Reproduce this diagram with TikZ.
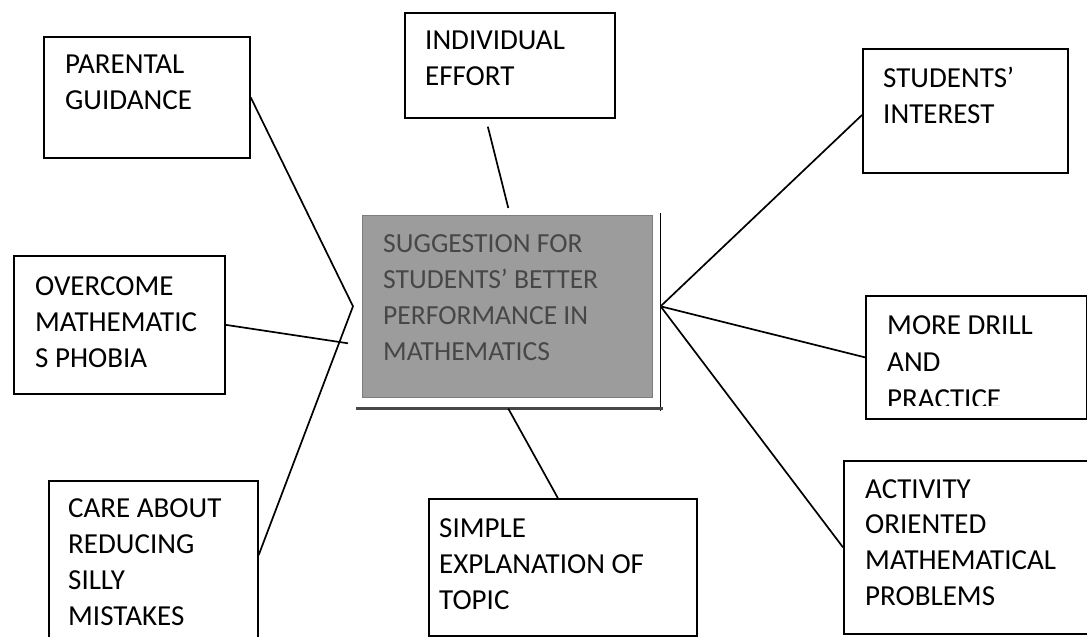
\documentclass[tikz,border=0pt]{standalone}
\usepackage{fontspec}
\setmainfont{Carlito}
\usetikzlibrary{calc}
\definecolor{cfill}{HTML}{9C9C9C}
\definecolor{ctext}{HTML}{474747}
\begin{document}
\begin{tikzpicture}[x=1pt,y=-1pt,
  box/.style={draw=black, line width=1.7pt, inner sep=0pt, anchor=north west},
  lbl/.style={anchor=north west, inner sep=0pt, align=left, font=\fontsize{29}{36}\selectfont},
  clbl/.style={lbl, text=ctext, font=\fontsize{27.6}{36}\selectfont},
  conn/.style={line width=1.7pt, black}]
\clip (0,0) rectangle (1087,637);
\fill[white] (0,0) rectangle (1087,637);
% boxes
\node[box, minimum width=206pt, minimum height=121pt] (pg) at (43,36) {};
\node[box, minimum width=210pt, minimum height=105pt] (ie) at (404,12) {};
\node[box, minimum width=205pt, minimum height=124pt] (si) at (862,48) {};
\node[box, minimum width=211pt, minimum height=138pt] (oc) at (13,255) {};
\node[box, minimum width=221pt, minimum height=123pt] (md) at (865,295) {};
\node[box, minimum width=209pt, minimum height=175pt] (ca) at (48,480) {};
\node[box, minimum width=268pt, minimum height=137pt] (se) at (428,498) {};
\node[box, minimum width=262pt, minimum height=173pt] (ao) at (843,460) {};
% centre
\node[anchor=north west, fill=cfill, draw=cfill!80!black, line width=0.6pt, inner sep=0pt,
      minimum width=290pt, minimum height=182pt] (c) at (362,215) {};
\draw[black, line width=1.4pt] ($(c.north east)+(8,-2)$) -- ($(c.south east)+(8,13)$);
\draw[black!72, line width=3.5pt] ($(c.south west)+(-6,11)$) -- ($(c.south east)+(10,11)$);
% texts
\node[lbl] (pgt) at (65,53) {\rule{0pt}{20pt}PARENTAL\\GUIDANCE};
\node[lbl] (iet) at (425,29) {\rule{0pt}{20pt}INDIVIDUAL\\EFFORT};
\node[lbl] (sit) at (883,67) {\rule{0pt}{20pt}STUDENTS’\\INTEREST};
\node[lbl] (oct) at (35,275) {\rule{0pt}{20pt}OVERCOME\\MATHEMATIC\\S PHOBIA};
\begin{scope}
\clip (800,280) rectangle (1087,405);
\node[lbl, font=\fontsize{29}{37}\selectfont] (mdt) at (887,314) {\rule{0pt}{20pt}MORE DRILL\\AND\\PRACTICE};
\end{scope}
\node[lbl] (cat) at (68,497) {\rule{0pt}{20pt}CARE ABOUT\\REDUCING\\SILLY\\MISTAKES};
\node[lbl] (set) at (439,517) {\rule{0pt}{20pt}SIMPLE\\EXPLANATION OF\\TOPIC};
\node[lbl, font=\fontsize{29}{35.7}\selectfont] (aot) at (865,478) {\rule{0pt}{20pt}ACTIVITY\\ORIENTED\\MATHEMATICAL\\PROBLEMS};
\node[clbl] (ct) at (383,232) {\rule{0pt}{20pt}SUGGESTION FOR\\STUDENTS’ BETTER\\PERFORMANCE IN\\MATHEMATICS};
% connectors
\coordinate (lv) at ($(c.west)+(-9,0)$);
\coordinate (rv) at ($(c.east)+(8,0)$);
\coordinate (caj) at ($(ca.north east)+(0,75)$);
\coordinate (ocj) at ($(c.west)+(-14,37)$);
\coordinate (iej) at ($(ie.south)+(-22,8)$);
\coordinate (ctop) at ($(c.north)+(1,-7)$);
\coordinate (cbot) at ($(c.south)+(1,11)$);
\coordinate (sej) at ($(se.north)+(-5,0)$);
\coordinate (sij) at ($(si.north west)+(0,67)$);
\draw[conn] (pg.east) -- (lv) -- (caj);
\draw[conn] (oc.east) -- (ocj);
\draw[conn] (iej) -- (ctop);
\draw[conn] (cbot) -- (sej);
\draw[conn] (rv) -- (sij);
\draw[conn] (rv) -- (md.west);
\draw[conn] (rv) -- (ao.west);
\end{tikzpicture}
\end{document}
